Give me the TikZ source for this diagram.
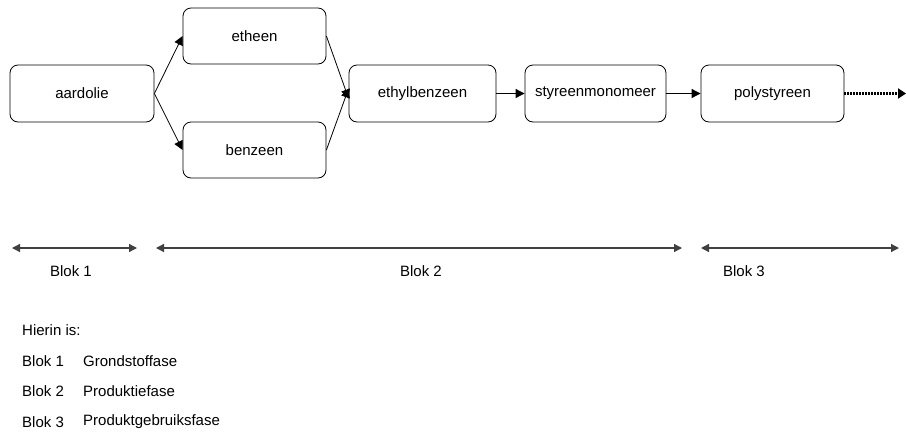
\documentclass[tikz,border=0pt]{standalone}
\usepackage{fontspec}
\setmainfont{Liberation Sans}
\usetikzlibrary{arrows.meta}
\begin{document}
\begin{tikzpicture}[x=1pt,y=-1pt,
  box/.style={draw, rounded corners=8pt, line width=0.8pt, inner sep=0pt, font=\fontsize{15}{17}\selectfont},
  arr/.style={line width=0.8pt, -{Triangle[length=9pt,width=9pt]}},
  blok/.style={line width=1.3pt, draw=black!75, {Triangle[length=8pt,width=8pt]}-{Triangle[length=8pt,width=8pt]}},
  lbl/.style={font=\fontsize{15}{17}\selectfont, inner sep=0pt},
  txt/.style={font=\fontsize{15}{17}\selectfont, inner sep=0pt, anchor=west}]
\useasboundingbox (0,0) rectangle (906,437);
\node[box, minimum width=144pt, minimum height=57pt] (aard) at (82,93.5) {aardolie};
\node[box, minimum width=143pt, minimum height=56pt] (eth) at (254.5,36) {etheen};
\node[box, minimum width=143pt, minimum height=56pt] (benz) at (254.5,150) {benzeen};
\node[box, minimum width=147pt, minimum height=57pt] (ebz) at (422.5,93.5) {ethylbenzeen};
\node[box, minimum width=141pt, minimum height=57pt] (sty) at (595.5,93.5) {styreenmonomeer};
\node[box, minimum width=143pt, minimum height=57pt] (poly) at (772.5,93.5) {polystyreen};
\coordinate (end) at (906,93.5);
\draw[arr] (aard.east) -- (eth.west);
\draw[arr] (aard.east) -- (benz.west);
\draw[arr] (eth.east) -- ([yshift=-5pt]ebz.west);
\draw[arr] (benz.east) -- ([yshift=5pt]ebz.west);
\draw[arr] (ebz.east) -- (sty.west);
\draw[arr] (sty.east) -- (poly.west);
\draw[line width=3pt, dash pattern=on 2pt off 1pt, -{Triangle[length=8pt,width=10pt]}] (poly.east) -- (end);
% blocks
\coordinate (b1a) at (12,248); \coordinate (b1b) at (137,248);
\coordinate (b2a) at (156,248); \coordinate (b2b) at (682,248);
\coordinate (b3a) at (701,248); \coordinate (b3b) at (899,248);
\draw[blok] (b1a) -- (b1b);
\draw[blok] (b2a) -- (b2b);
\draw[blok] (b3a) -- (b3b);
\node[lbl] (l1) at (71,271) {Blok 1};
\node[lbl] (l2) at (421,271) {Blok 2};
\node[lbl] (l3) at (744,271) {Blok 3};
\node[txt] (h) at (22,330) {Hierin is:};
\node[txt] (r1) at (22,361) {Blok 1};
\node[txt] (r2) at (22,391) {Blok 2};
\node[txt] (r3) at (22,422) {Blok 3};
\node[txt] (p1) at (83,361) {Grondstoffase};
\node[txt] (p2) at (83,391) {Produktiefase};
\node[txt] (p3) at (83,422) {Produktgebruiksfase};
\end{tikzpicture}
\end{document}
